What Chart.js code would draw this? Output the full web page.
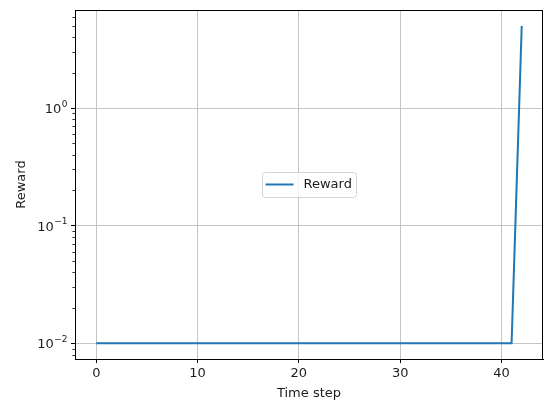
<!DOCTYPE html>
<html>
<head>
<meta charset="utf-8">
<script src="https://cdn.jsdelivr.net/npm/chart.js@4.4.1/dist/chart.umd.min.js"></script>
<style>
  html, body { margin: 0; padding: 0; background: #ffffff; }
  #wrap { width: 546px; height: 401px; }
</style>
</head>
<body>
<div id="wrap"><canvas id="chart" width="546" height="401"></canvas></div>
<script>
// Reward per time step of one episode
const timeSteps = [0, 1, 2, 3, 4, 5, 6, 7, 8, 9, 10, 11, 12, 13, 14, 15, 16, 17, 18, 19, 20,
                   21, 22, 23, 24, 25, 26, 27, 28, 29, 30, 31, 32, 33, 34, 35, 36, 37, 38, 39, 40,
                   41, 42];
const rewards = [0.01, 0.01, 0.01, 0.01, 0.01, 0.01, 0.01, 0.01, 0.01, 0.01, 0.01,
                 0.01, 0.01, 0.01, 0.01, 0.01, 0.01, 0.01, 0.01, 0.01, 0.01,
                 0.01, 0.01, 0.01, 0.01, 0.01, 0.01, 0.01, 0.01, 0.01, 0.01,
                 0.01, 0.01, 0.01, 0.01, 0.01, 0.01, 0.01, 0.01, 0.01, 0.01,
                 0.01, 5.0];
const xTickValues = [0, 10, 20, 30, 40];
const yTickValues = [0.01, 0.1, 1];
const seriesLabel = 'Reward';
const xTitle = 'Time step';
const yTitle = 'Reward';

const FONT_FAMILY = '"DejaVu Sans", sans-serif';
const FONT = { family: FONT_FAMILY, size: 13 };
const SUP_SIZE = 9;
const TEXT_COLOR = '#1c1c1c';
const LINE_COLOR = '#1f77b4';
const GRID_COLOR = '#c4c4c4';

// Axis limits padded by 5% of the data span (log space for the y axis)
const xLo = Math.min(...timeSteps), xHi = Math.max(...timeSteps);
const xPad = (xHi - xLo) * 0.05;
const lyLo = Math.log10(Math.min(...rewards)), lyHi = Math.log10(Math.max(...rewards));
const lyPad = (lyHi - lyLo) * 0.05;

// exponent text for a power of ten, using a true minus sign
function exponentOf(v) {
  return String(Math.round(Math.log10(v))).replace('-', '\u2212');
}

// Log-axis labels as 10 with a raised exponent, minor log ticks,
// a frame on all four sides, and a legend centred in the plot
const axesExtras = {
  id: 'axesExtras',
  afterDraw(chart) {
    const { ctx, chartArea: a } = chart;
    const ys = chart.scales.y;
    ctx.save();

    // y tick labels: "10" followed by a superscript exponent
    ctx.fillStyle = TEXT_COLOR;
    ctx.textBaseline = 'alphabetic';
    ctx.textAlign = 'left';
    const rightEdge = a.left - 4 - 4;
    ys.ticks.forEach(t => {
      const py = ys.getPixelForValue(t.value);
      const exp = exponentOf(t.value);
      ctx.font = SUP_SIZE + 'px ' + FONT_FAMILY;
      const ew = ctx.measureText(exp).width;
      ctx.font = FONT.size + 'px ' + FONT_FAMILY;
      const bw = ctx.measureText('10').width;
      const x0 = rightEdge - ew - bw;
      ctx.fillText('10', x0, py + 5);
      ctx.font = SUP_SIZE + 'px ' + FONT_FAMILY;
      ctx.fillText(exp, x0 + bw + 0.5, py - 1.5);
    });

    // minor ticks on the log axis
    ctx.strokeStyle = '#000';
    ctx.lineWidth = 0.8;
    for (let d = -4; d <= 2; d++) {
      for (let m = 2; m <= 9; m++) {
        const v = m * Math.pow(10, d);
        if (v <= ys.min || v >= ys.max) continue;
        const py = Math.round(ys.getPixelForValue(v)) + 0.5;
        ctx.beginPath();
        ctx.moveTo(a.left - 2.6, py);
        ctx.lineTo(a.left, py);
        ctx.stroke();
      }
    }

    // axes frame
    ctx.lineWidth = 1;
    ctx.strokeStyle = '#000';
    ctx.strokeRect(Math.round(a.left) + 0.5, Math.round(a.top) + 0.5,
                   Math.round(a.right) - Math.round(a.left) - 1,
                   Math.round(a.bottom) - Math.round(a.top));

    // legend
    const ds = chart.data.datasets[0];
    ctx.font = FONT.size + 'px ' + FONT_FAMILY;
    const tw = ctx.measureText(ds.label).width;
    const padL = 3, handle = 28, gap = 10, padR = 5, h = 25;
    const w = padL + handle + gap + tw + padR;
    const cx = (a.left + a.right) / 2, cy = (a.top + a.bottom) / 2;
    const bx = Math.round(cx - w / 2) + 0.5, by = Math.round(cy - h / 2) + 0.5;
    ctx.beginPath();
    ctx.roundRect(bx, by, Math.round(w), h, 3);
    ctx.fillStyle = 'rgba(255,255,255,0.8)';
    ctx.fill();
    ctx.strokeStyle = '#d4d4d4';
    ctx.lineWidth = 1;
    ctx.stroke();
    ctx.beginPath();
    ctx.strokeStyle = ds.borderColor;
    ctx.lineWidth = ds.borderWidth;
    ctx.moveTo(bx + padL, cy);
    ctx.lineTo(bx + padL + handle, cy);
    ctx.stroke();
    ctx.fillStyle = TEXT_COLOR;
    ctx.textBaseline = 'middle';
    ctx.textAlign = 'left';
    ctx.fillText(ds.label, bx + padL + handle + gap, cy + 0.5);
    ctx.restore();
  }
};

new Chart(document.getElementById('chart'), {
  type: 'line',
  data: {
    datasets: [{
      label: seriesLabel,
      data: timeSteps.map((t, i) => ({ x: t, y: rewards[i] })),
      borderColor: LINE_COLOR,
      backgroundColor: LINE_COLOR,
      borderWidth: 2,
      pointRadius: 0,
      tension: 0,
      fill: false
    }]
  },
  options: {
    responsive: false,
    animation: false,
    devicePixelRatio: 1,
    layout: { padding: { left: 0, right: 3, top: 10, bottom: 0 } },
    plugins: {
      legend: { display: false },
      tooltip: { enabled: false }
    },
    scales: {
      x: {
        type: 'linear',
        min: xLo - xPad,
        max: xHi + xPad,
        afterBuildTicks: s => { s.ticks = xTickValues.map(v => ({ value: v })); },
        afterFit: s => { s.height = 42; },
        grid: { color: GRID_COLOR, lineWidth: 1, tickLength: 4, tickColor: '#000', tickWidth: 1 },
        border: { display: true, color: '#000', width: 1 },
        ticks: { font: FONT, color: TEXT_COLOR, padding: 3, maxRotation: 0, autoSkip: false },
        title: { display: true, text: xTitle, font: FONT, color: TEXT_COLOR, padding: { top: 0, bottom: 0 } }
      },
      y: {
        type: 'logarithmic',
        min: Math.pow(10, lyLo - lyPad),
        max: Math.pow(10, lyHi + lyPad),
        afterBuildTicks: s => { s.ticks = yTickValues.map(v => ({ value: v, major: true })); },
        afterFit: s => { s.width = 75; },
        grid: { color: GRID_COLOR, lineWidth: 1, tickLength: 4, tickColor: '#000', tickWidth: 1 },
        border: { display: true, color: '#000', width: 1 },
        ticks: { display: false },
        title: { display: true, text: yTitle, font: FONT, color: TEXT_COLOR, padding: { top: 14, bottom: 0 } }
      }
    }
  },
  plugins: [axesExtras]
});
</script>
</body>
</html>
